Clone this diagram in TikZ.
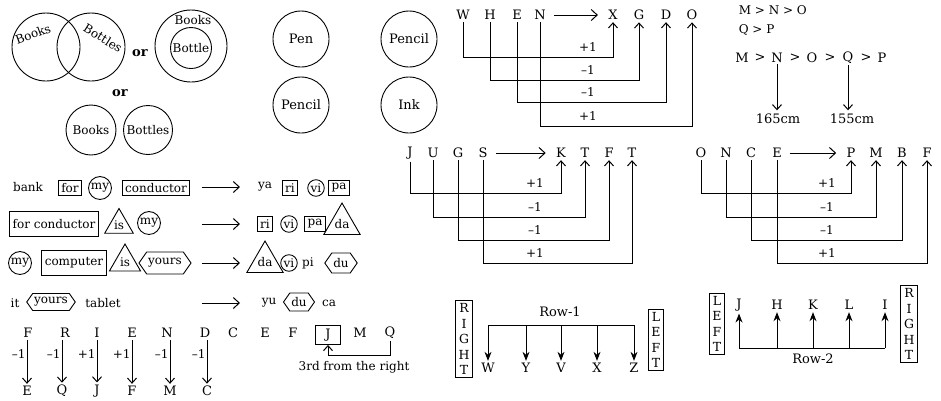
\documentclass[tikz,border=0pt]{standalone}
\usepackage{fontspec}
\setmainfont{DejaVu Serif}
\usetikzlibrary{shapes.geometric,shapes.symbols,arrows.meta}
\tikzset{
  wbox/.style={draw,rectangle,inner sep=3pt},
  wcirc/.style={draw,circle,inner sep=1pt},
  wtri/.style={draw,regular polygon,regular polygon sides=3,minimum size=33pt,inner sep=0pt},
  whex/.style={draw,signal,signal to=east and west,signal pointer angle=110,inner sep=1.5pt},
  ltr/.style={inner sep=2pt,font=\fontsize{13}{15}\selectfont},
  vbox/.style={draw,align=center,inner sep=3pt,font=\fontsize{12.5}{15.5}\selectfont},
  hop/.style={-{Straight Barb[length=5pt,width=9pt,line width=1pt]}},
  warr/.style={-{Straight Barb[length=6pt,width=11pt,line width=1pt]}},
  farr/.style={-{Stealth[length=9pt,width=7pt]}},
  orword/.style={font=\fontsize{13}{15}\selectfont\bfseries},
  bigc/.style={draw,circle,minimum size=56pt,font=\fontsize{13}{15}\selectfont}
}
\begin{document}
\begin{tikzpicture}[x=1pt,y=-1pt,font=\fontsize{12}{14}\selectfont,line width=0.9pt]
\useasboundingbox (0,0) rectangle (941,400);
% books and bottles
\draw (46,47) circle (34pt);
\draw (91,47) circle (34pt);
\node[rotate=20,inner sep=0pt] (vbk1) at (33,34) {Books};
\node[rotate=-32,inner sep=0pt] (vbt1) at (103,38) {Bottles};
\node[orword] (or1) at (140,53) {or};
\draw (191,46) circle (36pt);
\node (vbk2) at (193,20) {Books};
\node[draw,circle,minimum size=41pt,inner sep=0pt] (vbt2) at (191,48) {Bottle};
\node[orword] (or2) at (120,93) {or};
\node[draw,circle,minimum size=50pt,inner sep=0pt] (vbk3) at (91,130) {Books};
\node[draw,circle,minimum size=49pt,inner sep=0pt] (vbt3) at (148,130) {Bottles};
% pen pencil ink
\node[bigc] (pen1) at (301,39) {Pen};
\node[bigc] (pcl1) at (409,39) {Pencil};
\node[bigc] (pcl2) at (301,105) {Pencil};
\node[bigc] (ink1) at (409,105) {Ink};
% code words
\node (bank) at (28,187) {bank};
\node[wbox] (for1) at (70,188) {for};
\node[wcirc] (my1) at (100,188) {my};
\node[wbox] (cond1) at (156,188) {conductor};
\coordinate (ra1) at (202,187); \coordinate (rb1) at (240,187);
\draw[warr] (ra1) -- (rb1);
\node (ya) at (265,187) {ya};
\node[wbox] (ri1) at (290,188) {ri};
\node[wcirc] (vi1) at (316,188) {vi};
\node[wbox] (pa1) at (339,188) {pa};

\node[wbox,minimum height=25pt] (fcond) at (54,224) {for conductor};
\node[wtri] (is1) at (119,225) {is};
\node[wcirc] (my2) at (149,223) {my};
\coordinate (ra2) at (202,224); \coordinate (rb2) at (240,224);
\draw[warr] (ra2) -- (rb2);
\node[wbox] (ri2) at (265,224) {ri};
\node[wcirc] (vi2) at (289,224) {vi};
\node[wbox] (pa2) at (315,224) {pa};
\node[wtri] (da1) at (342,224) {da};

\node[wcirc] (my3) at (20,263) {my};
\node[wbox,minimum height=25pt] (comp) at (74,263) {computer};
\node[wtri,minimum size=36pt] (is2) at (125,262) {is};
\node[whex,minimum height=22pt] (yrs1) at (165,263) {yours};
\coordinate (ra3) at (202,263); \coordinate (rb3) at (240,263);
\draw[warr] (ra3) -- (rb3);
\node[wtri] (da2) at (265,262) {da};
\node[wcirc] (vi3) at (289,263) {vi};
\node (pi) at (308,263) {pi};
\node[whex,minimum height=20pt] (du1) at (341,263) {du};

\node (it) at (15,303) {it};
\node[whex,minimum height=17pt] (yrs2) at (51,302) {yours};
\node (tab) at (103,303) {tablet};
\coordinate (ra4) at (202,303); \coordinate (rb4) at (240,303);
\draw[warr] (ra4) -- (rb4);
\node (yu) at (269,303) {yu};
\node[whex,minimum height=18pt] (du2) at (299,302) {du};
\node (ca) at (329,303) {ca};
% FRIEND
\foreach \c/\x [count=\i] in {F/28,R/65,I/97,E/132,N/167,D/205,C/233,E/265,F/293}
  \node[ltr] (fr\i) at (\x,333) {\c};
\node[wbox,minimum width=25pt,minimum height=19pt,inner sep=1pt,font=\fontsize{13}{15}\selectfont] (fj) at (328,335) {J};
\node[ltr] (fm) at (360,333) {M};
\node[ltr] (fq) at (390,333) {Q};
\foreach \c/\x [count=\i] in {E/27,Q/62,J/97,F/132,M/170,C/207}
  \node[ltr] (fd\i) at (\x,391) {\c};
\foreach \i/\d in {1/–1,2/–1,3/+1,4/+1,5/–1,6/–1} {
  \draw[hop] (fd\i.north |- fr\i.south) -- (fd\i.north);
  \node[anchor=east,inner sep=1pt] at (fd\i.north |- 0,354) {\d};
}
\draw[hop] (fq.south) -- (fq.south |- 0,355) -| (fj.south);
\node (third) at (354,367) {3rd from the right};
% WHEN
\foreach \c/\x [count=\i] in {W/463,H/490,E/517,N/540}
  \node[ltr] (wn\i) at (\x,15) {\c};
\foreach \c/\x [count=\i] in {X/613,G/639,D/666,O/692}
  \node[ltr] (xg\i) at (\x,15) {\c};
\draw[warr,shorten <=6pt,shorten >=8pt] (wn4.east) -- (xg1.west);
\foreach \i/\lv/\d in {1/57/+1,2/80/–1,3/102/–1,4/126/+1} {
  \draw[hop] (wn\i.south) -- (wn\i.south |- 0,\lv) -| (xg\i.south);
  \node (wd\i) at (588,\lv-10) {\d};
}
% heights
\node[anchor=west] (mno) at (735,10) {M > N > O};
\node[anchor=west] (qp) at (735,30) {Q > P};
\foreach \c/\x [count=\i] in {M/742,>/760,N/777,>/795,O/812,>/830,Q/848,>/866,P/882}
  \node[inner sep=1pt,font=\fontsize{13}{15}\selectfont] (hc\i) at (\x,58) {\c};
\node[font=\fontsize{13}{15}\selectfont] (h165) at (778,119) {165cm};
\node[font=\fontsize{13}{15}\selectfont] (h155) at (852,119) {155cm};
\draw[hop] (hc3.south) -- (h165.north -| hc3.south);
\draw[hop] (hc7.south) -- (h155.north -| hc7.south);
% JUGS
\foreach \c/\x [count=\i] in {J/410,U/433,G/458,S/483}
  \node[ltr] (jg\i) at (\x,153) {\c};
\foreach \c/\x [count=\i] in {K/561,T/585,F/609,T/632}
  \node[ltr] (kt\i) at (\x,153) {\c};
\draw[warr,shorten <=6pt,shorten >=8pt] (jg4.east) -- (kt1.west);
\foreach \i/\lv/\d in {1/193/+1,2/217/–1,3/240/–1,4/263/+1} {
  \draw[hop] (jg\i.south) -- (jg\i.south |- 0,\lv) -| (kt\i.south);
  \node (jd\i) at (535,\lv-10) {\d};
}
% ONCE
\foreach \c/\x [count=\i] in {O/701,N/726,C/751,E/777}
  \node[ltr] (on\i) at (\x,153) {\c};
\foreach \c/\x [count=\i] in {P/851,M/876,B/902,F/927}
  \node[ltr] (pm\i) at (\x,153) {\c};
\draw[warr,shorten <=6pt,shorten >=8pt] (on4.east) -- (pm1.west);
\foreach \i/\lv/\d in {1/193/+1,2/217/–1,3/240/–1,4/263/+1} {
  \draw[hop] (on\i.south) -- (on\i.south |- 0,\lv) -| (pm\i.south);
  \node (od\i) at (827,\lv-10) {\d};
}
% Row-1
\node[vbox] (rgt1) at (464,339) {R\\I\\G\\H\\T};
\node[vbox] (lft1) at (656,340) {L\\E\\F\\T};
\foreach \c/\x [count=\i] in {W/488,Y/526,V/561,X/597,Z/634}
  \node[ltr] (ra\i) at (\x,368) {\c};
\node[font=\fontsize{13}{15}\selectfont] (row1) at (560,312) {Row-1};
\draw (ra1.north |- 0,325) -- (ra5.north |- 0,325);
\foreach \i in {1,...,5}
  \draw[farr] (ra\i.north |- 0,325) -- (ra\i.north);
% Row-2
\node[vbox] (lft2) at (717,324) {L\\E\\F\\T};
\node[vbox] (rgt2) at (909,324) {R\\I\\G\\H\\T};
\foreach \c/\x [count=\i] in {J/739,H/777,K/813,L/849,I/885}
  \node[ltr] (rb\i) at (\x,305) {\c};
\node[font=\fontsize{13}{15}\selectfont] (row2) at (813,359) {Row-2};
\draw (rb1.south |- 0,348) -- (rb5.south |- 0,348);
\foreach \i in {1,...,5}
  \draw[farr] (rb\i.south |- 0,348) -- (rb\i.south);
\end{tikzpicture}
\end{document}
